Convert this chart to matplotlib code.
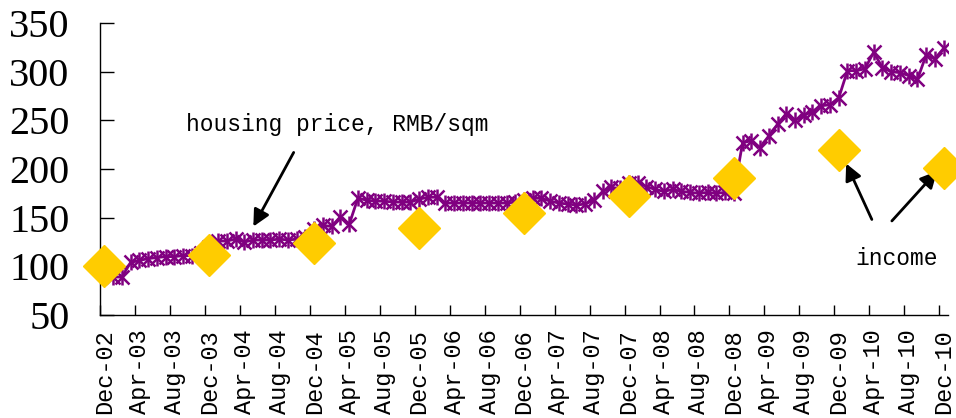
import matplotlib
matplotlib.use("Agg")
import matplotlib.pyplot as plt
import numpy as np

# monthly index from Dec-02 to Dec-10
months = ['Dec', 'Jan', 'Feb', 'Mar', 'Apr', 'May', 'Jun',
          'Jul', 'Aug', 'Sep', 'Oct', 'Nov']
month_labels = []
for i in range(97):
    yr = 2 + (i + 11) // 12
    month_labels.append(f"{months[i % 12]}-{yr:02d}")

# housing price, RMB/sqm (index)
housing_price = [
    95, 89, 89, 104, 106, 108, 109, 110, 110, 111, 111, 114,
    120, 126, 126, 128, 125, 127, 127, 127, 128, 127, 128, 130,
    138, 142, 141, 151, 143, 170, 168, 167, 167, 166, 166, 166,
    169, 171, 171, 165, 165, 165, 165, 165, 165, 165, 165, 166,
    168, 170, 170, 167, 165, 164, 163, 164, 168, 177, 181, 180,
    186, 186, 182, 179, 177, 179, 177, 176, 175, 176, 175, 176,
    175, 227, 229, 222, 234, 246, 257, 250, 255, 259, 265, 266,
    273, 301, 301, 303, 320, 304, 300, 299, 296, 292, 317, 313,
    324,
]

# income, at each December
income_idx = [0, 12, 24, 36, 48, 60, 72, 84, 96]
income = [100, 112, 124, 139, 155, 172, 191, 220, 201]

fig = plt.figure(figsize=(9.56, 4.18), dpi=100)
ax = fig.add_axes([100 / 956, (418 - 315) / 418, 848 / 956, 292 / 418])

x = np.arange(len(housing_price))
purple = '#800080'
ax.plot(x, housing_price, color=purple, lw=2, zorder=2)
ax.plot(x, housing_price, ls='none', marker='x', ms=10, mew=1.8,
        color=purple, zorder=3)
ax.plot(x, housing_price, ls='none', marker='|', ms=11, mew=1.8,
        color=purple, zorder=3)
ax.plot(income_idx, income, ls='none', marker='D', ms=21,
        color='#FFCC00', mec='#FFCC00', zorder=4, clip_on=False)

ax.set_xlim(-0.5, 96.5)
ax.set_ylim(50, 350)

# tick marks between categories, labels at category centres
ax.set_xticks(np.arange(-0.5, 97, 4))
ax.set_xticklabels([])
ax.set_xticks(np.arange(0, 97, 4), minor=True)
ax.set_xticklabels([month_labels[i] for i in range(0, 97, 4)], minor=True,
                   rotation=90, family='Liberation Mono', fontsize=17)
ax.tick_params(axis='x', which='major', direction='in', length=7, width=1)
ax.tick_params(axis='x', which='minor', length=0, pad=10)

ax.set_yticks(np.arange(50, 351, 50))
ax.set_yticklabels([str(v) for v in range(50, 351, 50)],
                   family='Liberation Serif', fontsize=29)
ax.tick_params(axis='y', direction='in', length=10, width=1, pad=22)

for s in ['top', 'right']:
    ax.spines[s].set_visible(False)
for s in ['left', 'bottom']:
    ax.spines[s].set_linewidth(1)

def data_xy(px, py):
    # pixel position in the 956x418 picture to data coords
    return ax.transData.inverted().transform(fig.transFigure.transform((px / 956, 1 - py / 418)))

fig.canvas.draw()
ax.text(*data_xy(186, 125), 'housing price, RMB/sqm', family='Liberation Mono',
        fontsize=16.5, va='center', ha='left')
ax.annotate('', xy=data_xy(252, 229), xytext=data_xy(295, 150),
            arrowprops=dict(arrowstyle='-|>', color='black', lw=2,
                            mutation_scale=25))
ax.text(*data_xy(897, 259), 'income', family='Liberation Mono',
        fontsize=16.5, va='center', ha='center')
ax.annotate('', xy=data_xy(845, 161), xytext=data_xy(873, 222),
            arrowprops=dict(arrowstyle='-|>', color='black', lw=2,
                            mutation_scale=25))
ax.annotate('', xy=data_xy(939, 169), xytext=data_xy(890, 223),
            arrowprops=dict(arrowstyle='-|>', color='black', lw=2,
                            mutation_scale=25))

fig.savefig('out.png', dpi=100)
